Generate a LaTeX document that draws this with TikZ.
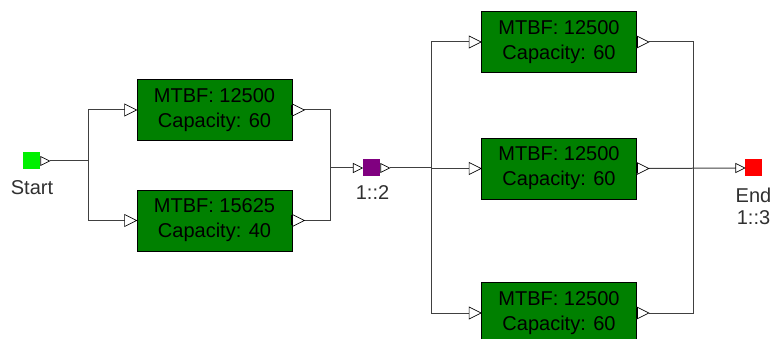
\documentclass[tikz,border=0pt]{standalone}
\usepackage{fontspec}
\setmainfont{Liberation Sans}
\definecolor{boxgreen}{HTML}{008000}
\definecolor{startgreen}{HTML}{00F000}
\definecolor{midpurple}{HTML}{800080}
\definecolor{endred}{HTML}{FF0000}
\definecolor{wiregray}{HTML}{404040}
\definecolor{labelgray}{HTML}{303030}
\newcommand\intri[2]{\draw[port] (#1) -- ++(-#2,-#2/2) -- ++(0,#2) -- cycle;}
\newcommand\outtri[2]{\draw[port] (#1) ++(0,-#2/2) -- ++(#2,#2/2) -- ++(-#2,#2/2) -- cycle;}
\begin{document}
\begin{tikzpicture}[x=1pt,y=-1pt,
  box/.style={draw=black, line width=0.8pt, fill=boxgreen, minimum width=155pt, minimum height=61pt, inner sep=0pt, align=center, font=\fontsize{20}{25}\selectfont, text=black},
  sq/.style={minimum size=17pt, inner sep=0pt, draw=none},
  lbl/.style={font=\fontsize{20}{24}\selectfont, text=labelgray, inner sep=0pt},
  wire/.style={draw=wiregray, line width=1pt},
  port/.style={draw=black, fill=white, line width=0.7pt}]
\useasboundingbox (0,0) rectangle (771,339);
\clip (0,0) rectangle (771,339);
% nodes
\node[sq, fill=startgreen] (start) at (31,161) {};
\node[lbl] (startlbl) at (32,188) {Start};
\node[box] (b1) at (214.5,110) {MTBF: 12500\\Capacity: 60};
\node[box] (b2) at (214.5,220.5) {MTBF: 15625\\Capacity: 40};
\node[sq, fill=midpurple] (mid) at (371,168) {};
\node[lbl] (midlbl) at (372.5,193) {1::2};
\node[box] (b3) at (559,42) {MTBF: 12500\\Capacity: 60};
\node[box] (b4) at (559,168.5) {MTBF: 12500\\Capacity: 60};
\node[box] (b5) at (559,313) {MTBF: 12500\\Capacity: 60};
\node[sq, fill=endred] (endn) at (753.5,168) {};
\node[lbl] (endlbl) at (753.5,195) {End};
\node[lbl] (endlbl2) at (753.5,218) {1::3};
% junction columns
\coordinate (ja) at (88,0);
\coordinate (jb) at (330,0);
\coordinate (jc) at (431,0);
\coordinate (jd) at (693,0);
% wires
\draw[wire] ([xshift=10pt]start.east) -- (start.east -| ja);
\draw[wire] ([xshift=-12pt]b1.west) -| (ja |- b2.west) -- ([xshift=-12pt]b2.west);
\draw[wire] ([xshift=12pt]b1.east) -| (jb |- b2.east) -- ([xshift=12pt]b2.east);
\draw[wire] (jb |- mid.west) -- ([xshift=-9pt]mid.west);
\draw[wire] ([xshift=10pt]mid.east) -- (jc |- mid.east);
\draw[wire] ([xshift=-12pt]b3.west) -| (jc |- b5.west) -- ([xshift=-12pt]b5.west);
\draw[wire] (jc |- b4.west) -- ([xshift=-12pt]b4.west);
\draw[wire] ([xshift=12pt]b3.east) -| (jd |- b5.east) -- ([xshift=12pt]b5.east);
\draw[wire] ([xshift=12pt]b4.east) -- ([xshift=-9pt]endn.west);
% ports
\outtri{[xshift=1pt]start.east}{9}
\intri{mid.west}{9}
\outtri{[xshift=1pt]mid.east}{9}
\intri{endn.west}{9}
\foreach \b in {b1,b2,b3,b4,b5}{
  \intri{\b.west}{12}
  \outtri{\b.east}{12}
  \draw[line width=2pt] ([yshift=-5pt]\b.east) -- ([yshift=5pt]\b.east);
}
\end{tikzpicture}
\end{document}
